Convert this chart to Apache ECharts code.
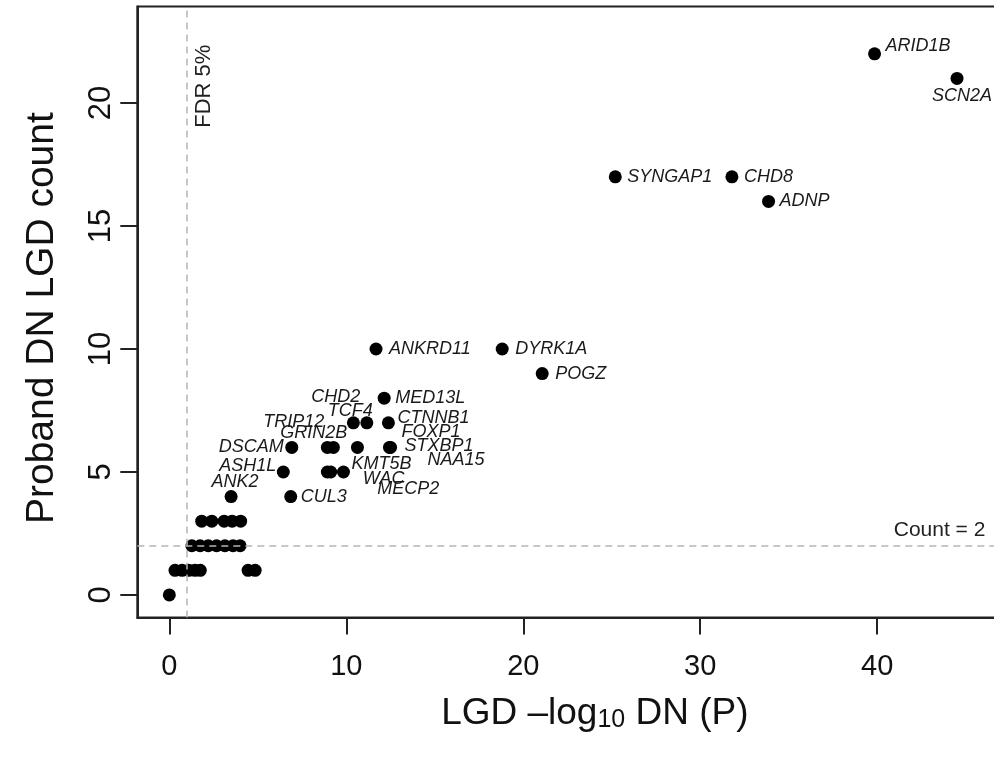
<!DOCTYPE html>
<html><head><meta charset="utf-8">
<script src="https://cdn.jsdelivr.net/npm/echarts@6/dist/echarts.min.js"></script>
<style>html,body{margin:0;padding:0;background:#fff;overflow:hidden;width:994px;height:757px}#c{width:1060px;height:757px}</style>
</head><body><div id="c"></div>
<script>
// ---- data ----
const geneNames = ['ARID1B','SCN2A','SYNGAP1','CHD8','ADNP','ANKRD11','DYRK1A','POGZ','MED13L',
  'CHD2','TCF4','CTNNB1','DSCAM','TRIP12','GRIN2B','FOXP1','STXBP1','NAA15',
  'ASH1L','MECP2','WAC','KMT5B','ANK2','CUL3'];
const geneX = [39.85, 44.51, 25.20, 31.79, 33.86, 11.68, 18.81, 21.07, 12.14,
  10.40, 11.16, 12.38, 6.92, 8.93, 9.27, 10.63, 12.44, 12.50,
  6.44, 8.93, 9.12, 9.84, 3.49, 6.86];
const geneY = [22, 21, 17, 17, 16, 10, 10, 9, 8,
  7, 7, 7, 6, 6, 6, 6, 6, 6,
  5, 5, 5, 5, 4, 4];
const otherX = [1.83, 2.40, 3.10, 3.55, 4.03,
  1.27, 1.74, 2.20, 2.67, 3.14, 3.60, 4.00,
  0.32, 0.72, 1.10, 1.45, 1.75, 4.45, 4.85,
  0.00];
const otherY = [3, 3, 3, 3, 3,
  2, 2, 2, 2, 2, 2, 2,
  1, 1, 1, 1, 1, 1, 1,
  0];
const xTicks = [0, 10, 20, 30, 40];
const yTicks = [0, 5, 10, 15, 20];
const fdrLine = 1.0;
const countLine = 2;
const xTitleA = 'LGD \u2013log';
const xTitleSub = '10';
const xTitleB = ' DN (P)';
const yTitle = 'Proband DN LGD count';

// ---- label placement (style only): [align, dx, dy] from point centre ----
const labelPlacement = {
  ARID1B: ['left', 11, -8], SCN2A: ['center', 5, 18], SYNGAP1: ['left', 12, 0],
  CHD8: ['left', 12, 0], ADNP: ['left', 11, 0], ANKRD11: ['left', 13, 0],
  DYRK1A: ['left', 13, 0], POGZ: ['left', 13, 0], MED13L: ['left', 11, 0],
  CHD2: ['right', 7, -26], TCF4: ['right', 6, -12], CTNNB1: ['left', 9, -5],
  DSCAM: ['right', -8, 0], TRIP12: ['right', -3, -25], GRIN2B: ['right', 14, -14],
  FOXP1: ['left', 44, -15], STXBP1: ['left', 15, -1], NAA15: ['left', 37, 13],
  ASH1L: ['right', -7, -6], MECP2: ['left', 50, 17], WAC: ['left', 32, 7],
  KMT5B: ['left', 8, -8], ANK2: ['center', 4, -15], CUL3: ['left', 10, 0]
};

const FONT = "'Liberation Sans', Arial, Helvetica, sans-serif";
const SYM = 13;
const pts = [];
otherX.forEach((x, i) => pts.push({ value: [x, otherY[i]] }));
geneNames.forEach((n, i) => {
  const p = labelPlacement[n];
  pts.push({
    value: [geneX[i], geneY[i]], name: n,
    label: { show: true, formatter: n, position: [SYM / 2 + p[1], SYM / 2 + p[2]], align: p[0], verticalAlign: 'middle',
      color: '#1a1a1a', fontStyle: 'italic', fontSize: 18, fontFamily: FONT }
  });
});

const chart = echarts.init(document.getElementById('c'), null, { renderer: 'canvas' });
chart.setOption({
  animation: false,
  backgroundColor: '#fff',
  textStyle: { fontFamily: FONT },
  grid: { left: 137.3, top: 6.6, right: 7.6, bottom: 139.4, show: true, borderColor: '#222', borderWidth: 2, containLabel: false },
  xAxis: {
    type: 'value', min: -1.81, max: 49.9,
    axisLine: { show: true, onZero: false, lineStyle: { color: '#222', width: 2 } },
    axisTick: { show: true, length: 17, customValues: xTicks, lineStyle: { color: '#222', width: 2 } },
    axisLabel: { customValues: xTicks, fontSize: 29, color: '#111', margin: 35, fontFamily: FONT },
    splitLine: { show: false },
    name: '{a|' + xTitleA + '}{s|' + xTitleSub + '}{a|' + xTitleB + '}',
    nameLocation: 'middle', nameGap: 78,
    nameTextStyle: {
      rich: {
        a: { fontSize: 37, lineHeight: 37, color: '#111', fontFamily: FONT, verticalAlign: 'top', padding: [0, 0, 14, 0] },
        s: { fontSize: 25, lineHeight: 25, color: '#111', fontFamily: FONT, verticalAlign: 'bottom' }
      }
    }
  },
  yAxis: {
    type: 'value', min: -0.92, max: 23.92,
    axisLine: { show: true, onZero: false, lineStyle: { color: '#222', width: 2 } },
    axisTick: { show: true, length: 17, customValues: yTicks, lineStyle: { color: '#222', width: 2 } },
    axisLabel: { customValues: yTicks, fontSize: 31, color: '#111', margin: 20, rotate: 90, fontFamily: FONT },
    splitLine: { show: false },
    name: yTitle, nameLocation: 'middle', nameGap: 76,
    nameTextStyle: { fontSize: 39, color: '#111', fontFamily: FONT, padding: [0, 12, 0, 0] }
  },
  series: [{
    type: 'scatter', symbol: 'circle', symbolSize: SYM,
    itemStyle: { color: '#000', opacity: 1 },
    data: pts,
    labelLayout: { hideOverlap: false },
    markLine: {
      silent: true, symbol: 'none', animation: false, precision: 4,
      lineStyle: { color: '#b5b5b5', type: [7, 5], width: 1.5 },
      data: [
        { xAxis: fdrLine, label: { show: true, formatter: 'FDR 5%', position: 'insideEndBottom', distance: [38, 6], fontSize: 22, color: '#222', fontFamily: FONT } },
        { yAxis: countLine, label: { show: true, formatter: 'Count = ' + countLine, position: 'insideEndTop', distance: [67, 5], fontSize: 21, color: '#222', fontFamily: FONT } }
      ]
    }
  }]
});
</script>
</body></html>
